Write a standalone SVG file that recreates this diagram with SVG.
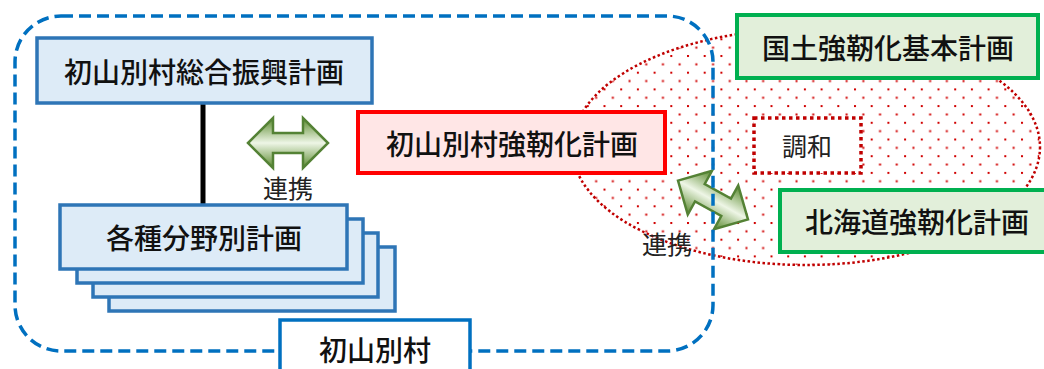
<svg xmlns="http://www.w3.org/2000/svg" width="1044" height="369" viewBox="0 0 1044 369">
  <style>
    text { font-family: "Noto Sans CJK JP", "Noto Sans", sans-serif; text-anchor: middle; dominant-baseline: central; fill: #111; }
    .big { font-size: 28px; font-weight: 500; }
    .lbl { font-size: 25px; font-weight: 400; fill: #222; }
    .blue { fill: #DDEBF7; stroke: #2E75B6; stroke-width: 3.5; }
    .green { fill: #E2EFDA; stroke: #00B050; stroke-width: 4; }
    .red { fill: #FFE6E6; stroke: #FF0000; stroke-width: 4; }
    .arrow { fill: url(#ag); stroke: #548235; stroke-width: 2.5; stroke-linejoin: miter; }
  </style>
  <defs>
    <pattern id="dots" patternUnits="userSpaceOnUse" x="687" y="55" width="16.7" height="16.7">
      <rect x="0" y="0" width="2" height="2" fill="#D00000"/>
      <rect x="8.35" y="8.35" width="2" height="2" fill="#D00000"/>
    </pattern>
    <linearGradient id="ag" x1="0" y1="0" x2="0" y2="1">
      <stop offset="0" stop-color="#5A8A2E"/>
      <stop offset="0.5" stop-color="#EEF6E6"/>
      <stop offset="1" stop-color="#5A8A2E"/>
    </linearGradient>
    <path id="darrow" d="M-40,0 L-15,-25 L-15,-10 L15,-10 L15,-25 L40,0 L15,25 L15,10 L-15,10 L-15,25 Z"/>
  </defs>

  <!-- harmony region -->
  <g id="harmony-region">
    <ellipse cx="806" cy="147" rx="234" ry="118" fill="url(#dots)" stroke="#C00000" stroke-width="2.5" stroke-dasharray="2.5 2.5"/>
  </g>

  <!-- connectors -->
  <g id="connectors">
    <line x1="203" y1="103" x2="203" y2="205" stroke="#000" stroke-width="5"/>
    <use href="#darrow" class="arrow" transform="translate(288,143)"/>
    <use href="#darrow" class="arrow" transform="translate(713,200) rotate(29)"/>
    <text class="lbl" x="288" y="187">連携</text>
    <text class="lbl" x="667" y="243">連携</text>
  </g>

  <!-- village container -->
  <g id="village">
    <rect x="15" y="16" width="698" height="335" rx="46" ry="46" fill="none" stroke="#0070C0" stroke-width="3.5" stroke-dasharray="12 6"/>
    <rect x="280" y="320" width="190" height="60" fill="#FFFFFF" stroke="#0070C0" stroke-width="3.5"/>
    <text class="big" x="375" y="349">初山別村</text>
  </g>

  <g id="sogo">
    <rect class="blue" x="37" y="38" width="335" height="65"/>
    <text class="big" x="204" y="71">初山別村総合振興計画</text>
  </g>

  <g id="bunya">
    <rect class="blue" x="109" y="247" width="286" height="64"/>
    <rect class="blue" x="93" y="233" width="285" height="64"/>
    <rect class="blue" x="77" y="219" width="286" height="64"/>
    <rect class="blue" x="60" y="205" width="287" height="64"/>
    <text class="big" x="204" y="237">各種分野別計画</text>
  </g>

  <g id="village-plan">
    <rect class="red" x="358" y="112" width="307" height="61"/>
    <text class="big" x="512" y="143">初山別村強靭化計画</text>
  </g>

  <g id="national-plan">
    <rect class="green" x="737" y="15" width="301" height="63"/>
    <text class="big" x="888" y="47">国土強靭化基本計画</text>
  </g>

  <g id="hokkaido-plan">
    <rect class="green" x="780" y="190" width="274" height="62"/>
    <text class="big" x="917" y="221">北海道強靭化計画</text>
  </g>

  <g id="harmony">
    <rect x="754" y="118" width="107" height="55" fill="#FFFFFF" stroke="#C00000" stroke-width="3.5" stroke-dasharray="3.5 3.5"/>
    <text class="lbl" x="807" y="145">調和</text>
  </g>
</svg>
